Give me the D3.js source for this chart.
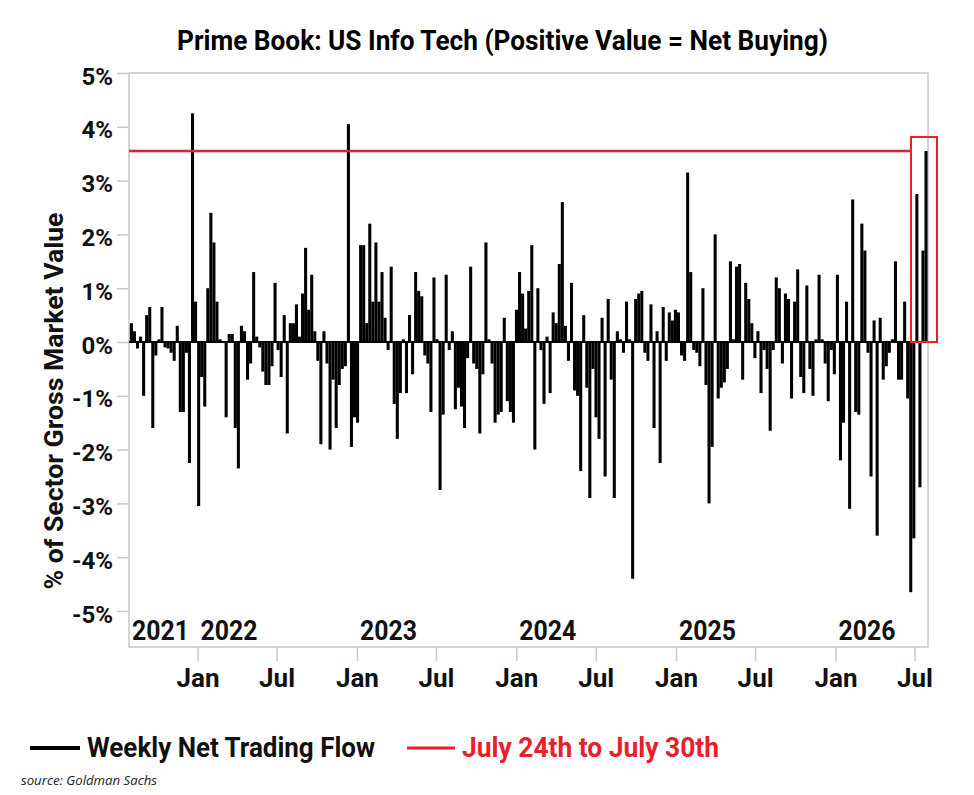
<!DOCTYPE html>
<html>
<head>
<meta charset="utf-8">
<script src="https://cdn.jsdelivr.net/npm/d3@7"></script>
<style>
  body { margin: 0; background: #fff; }
  text { font-family: Roboto, "Noto Sans", sans-serif; font-weight: 700; }
</style>
</head>
<body>
<svg id="chart" width="974" height="795"></svg>
<script>
// weekly net trading flow, % of sector gross market value (week starting Fridays)
const firstWeek = "2021-07-30"
const weeklyFlow = [
  // Aug 2021 - Jun 2022
  0.35, 0.2, -0.12, 0.1, -1.0, 0.5, 0.65, -1.6, -0.25, 0.05,
  0.65, -0.1, -0.12, -0.2, -0.35, 0.3, -1.3, -1.3, -0.2, -2.25,
  4.25, 0.75, -3.05, -0.65, -1.2, 1.0, 2.4, 1.85, 0.75, 0.05,
  0.02, -1.4, 0.15, 0.15, -1.6, -2.35, 0.3, 0.2, -0.7, -0.4,
  1.3, 0.1, -0.1, -0.55,
  // Jun 2022 - Apr 2023
  -0.8, -0.8, -0.45, 1.1, -0.15, -0.65, 0.5, -1.7, 0.35, 0.35,
  0.7, 0.1, 0.9, 1.75, 0.6, 1.25, 0.2, -0.35, -1.9, 0.2,
  -0.4, -2.0, -0.7, -1.6, -0.8, -0.5, -0.45, 4.05, -1.95, -1.4,
  -1.5, 1.8, 1.8, 0.35, 2.2, 0.75, 1.85, 0.75, 1.3, 0.45,
  -0.15, 1.4, -1.15, -1.8,
  // Apr 2023 - Feb 2024
  -0.95, 0.05, -0.95, 0.5, -0.6, 1.3, 0.95, 0.85, -0.25, -0.4,
  -1.3, 1.2, 0.05, -2.75, -1.35, 1.25, -0.15, 0.2, -1.25, -0.85,
  -1.2, -1.6, -0.3, 1.4, -0.4, -0.5, -1.7, -0.6, 1.85, 0.05,
  -0.4, -1.5, -1.35, -1.3, 0.45, -1.1, -1.3, -1.5, 0.6, 1.3,
  0.9, 0.25,
  // Feb 2024 - Dec 2024
  0.95, 1.8, -2.0, 1.0, -0.15, -1.15, 0.1, -0.95, 0.55, 0.35,
  1.45, 2.6, 0.3, -0.35, 1.1, -0.9, -1.0, -2.4, 0.5, -0.85,
  -2.9, -0.5, -1.4, -1.8, 0.45, -2.5, 0.8, -0.7, -2.9, 0.2,
  0.05, -0.2, 0.75, 0.05, -4.4, 0.8, 0.9, 0.95, -0.2, -0.35,
  0.7, -1.6, 0.2, -2.25, 0.65, -0.35,
  // Dec 2024 - Oct 2025
  0.55, 0.4, 0.6, 0.55, -0.25, -0.35, 3.15, 1.3, -0.15, -0.2,
  -0.45, 1.0, -0.8, -3.0, -1.95, 2.0, -1.05, -0.85, -0.75, -0.5,
  1.5, 0.05, 1.4, 1.45, -0.7, 1.1, 0.8, 0.35, -0.3, 0.2,
  -0.95, -0.15, -0.5, -1.65, -0.15, 1.2, 1.0, -0.4, 0.9, 0.8,
  -1.05, 0.75, 1.35, -0.65,
  // Oct 2025 - Jul 2026
  -0.95, 1.05, -0.5, -1.0, 0.05, 1.25, 0.05, -0.4, -1.1, -0.15,
  -0.6, 1.25, -2.2, -1.5, 0.75, -3.1, 2.65, -1.3, -1.35, 2.2,
  1.7, -0.2, -2.5, 0.4, -3.6, 0.45, -0.7, -0.45, -0.2, 0.05,
  1.5, -0.7, -0.7, 0.75, -1.05, -4.65, -3.65, 2.75, -2.7, 1.7,
  3.55
]
const yTicks = [-5, -4, -3, -2, -1, 0, 1, 2, 3, 4, 5]
const monthTicks = ["2022-01-01", "2022-07-01", "2023-01-01", "2023-07-01", "2024-01-01",
  "2024-07-01", "2025-01-01", "2025-07-01", "2026-01-01", "2026-07-01"]
const yearLabels = ["2021", "2022", "2023", "2024", "2025", "2026"]
const yearStarts = ["2021-07-28", "2022-01-01", "2023-01-01", "2024-01-01", "2025-01-01", "2026-01-01"]
const legendLabels = ["Weekly Net Trading Flow", "July 24th to July 30th"]

const parse = d3.timeParse("%Y-%m-%d")
const red = "#e8202a"
const grey = "#c8c8c8"
const svg = d3.select("#chart")

const plotL = 129, plotR = 928, plotT = 73, plotB = 647
const x = d3.scaleTime()
  .domain([parse("2021-07-28"), parse("2026-08-01")])
  .range([plotL, plotR])
const y = d3.scaleLinear().domain([-5, 5]).range([611, 73])

const start = parse(firstWeek)
const weeks = weeklyFlow.map((v, i) => ({ date: d3.timeDay.offset(start, 7 * i), value: v }))

// title
svg.append("text")
  .attr("x", 177).attr("y", 50)
  .attr("font-size", 28)
  .attr("textLength", 651).attr("lengthAdjust", "spacingAndGlyphs")
  .text("Prime Book: US Info Tech (Positive Value = Net Buying)")

// frame
svg.append("rect")
  .attr("x", plotL).attr("y", plotT)
  .attr("width", plotR - plotL).attr("height", plotB - plotT)
  .attr("fill", "none").attr("stroke", grey).attr("stroke-width", 1.5)

// y axis
const yAxis = svg.append("g")
  .attr("transform", `translate(${plotL},0)`)
  .call(d3.axisLeft(y).tickValues(yTicks).tickSize(12).tickPadding(4).tickFormat(d => d + "%"))
yAxis.select(".domain").remove()
yAxis.selectAll("line").attr("stroke", grey).attr("stroke-width", 1.5)
yAxis.selectAll("text")
  .attr("font-size", 24).attr("font-family", "Roboto").attr("font-weight", 700)
  .attr("fill", "#111").attr("dy", "0.46em")

// x axis
const xAxis = svg.append("g")
  .attr("transform", `translate(0,${plotB})`)
  .call(d3.axisBottom(x).tickValues(monthTicks.map(parse)).tickSize(14).tickPadding(8)
    .tickFormat(d3.timeFormat("%b")))
xAxis.select(".domain").remove()
xAxis.selectAll("line").attr("stroke", grey).attr("stroke-width", 1.5)
xAxis.selectAll("text")
  .attr("font-size", 26).attr("font-family", "Roboto").attr("font-weight", 700)
  .attr("fill", "#111")

// year labels inside plot
svg.append("g").selectAll("text")
  .data(yearLabels)
  .join("text")
  .attr("x", (d, i) => x(parse(yearStarts[i])) + 3)
  .attr("y", 640)
  .attr("font-size", 28)
  .attr("textLength", 57).attr("lengthAdjust", "spacingAndGlyphs")
  .attr("fill", "#111")
  .text(d => d)

// bars
svg.append("g").selectAll("rect")
  .data(weeks)
  .join("rect")
  .attr("x", d => x(d.date))
  .attr("width", d => x(d3.timeDay.offset(d.date, 7)) - x(d.date))
  .attr("y", d => y(Math.max(0, d.value)))
  .attr("height", d => Math.abs(y(d.value) - y(0)))
  .attr("fill", "#000")

// zero line
svg.append("line")
  .attr("x1", plotL).attr("x2", plotR)
  .attr("y1", y(0)).attr("y2", y(0))
  .attr("stroke", "#000").attr("stroke-width", 2)

// latest week highlight
const last = weeks[weeks.length - 1]
const boxL = x(last.date) - 13.5, boxR = x(last.date) + 12.5
svg.append("line")
  .attr("x1", plotL).attr("x2", boxL)
  .attr("y1", y(last.value)).attr("y2", y(last.value))
  .attr("stroke", red).attr("stroke-width", 2.5)
svg.append("rect")
  .attr("x", boxL).attr("y", y(last.value) - 14)
  .attr("width", boxR - boxL).attr("height", y(0) - y(last.value) + 14)
  .attr("fill", "none").attr("stroke", red).attr("stroke-width", 2)

// y axis title
svg.append("text")
  .attr("transform", "translate(63,401) rotate(-90)")
  .attr("text-anchor", "middle")
  .attr("font-size", 25)
  .attr("textLength", 377).attr("lengthAdjust", "spacingAndGlyphs")
  .attr("fill", "#111")
  .text("% of Sector Gross Market Value")

// legend
const legend = svg.append("g")
legend.append("line").attr("x1", 30).attr("x2", 80).attr("y1", 748).attr("y2", 748)
  .attr("stroke", "#000").attr("stroke-width", 4)
legend.append("text").attr("x", 87).attr("y", 757).attr("font-size", 28)
  .attr("textLength", 288).attr("lengthAdjust", "spacingAndGlyphs")
  .attr("fill", "#111").text(legendLabels[0])
legend.append("line").attr("x1", 407).attr("x2", 455).attr("y1", 748).attr("y2", 748)
  .attr("stroke", red).attr("stroke-width", 3)
legend.append("text").attr("x", 462).attr("y", 757).attr("font-size", 28)
  .attr("textLength", 257).attr("lengthAdjust", "spacingAndGlyphs")
  .attr("fill", red).text(legendLabels[1])

// source
svg.append("text")
  .attr("x", 21).attr("y", 785)
  .style("font-family", "'Open Sans', sans-serif").style("font-weight", 400)
  .style("font-style", "italic").attr("font-size", 13)
  .attr("textLength", 136).attr("lengthAdjust", "spacingAndGlyphs")
  .attr("fill", "#222")
  .text("source: Goldman Sachs")
</script>
</body>
</html>
